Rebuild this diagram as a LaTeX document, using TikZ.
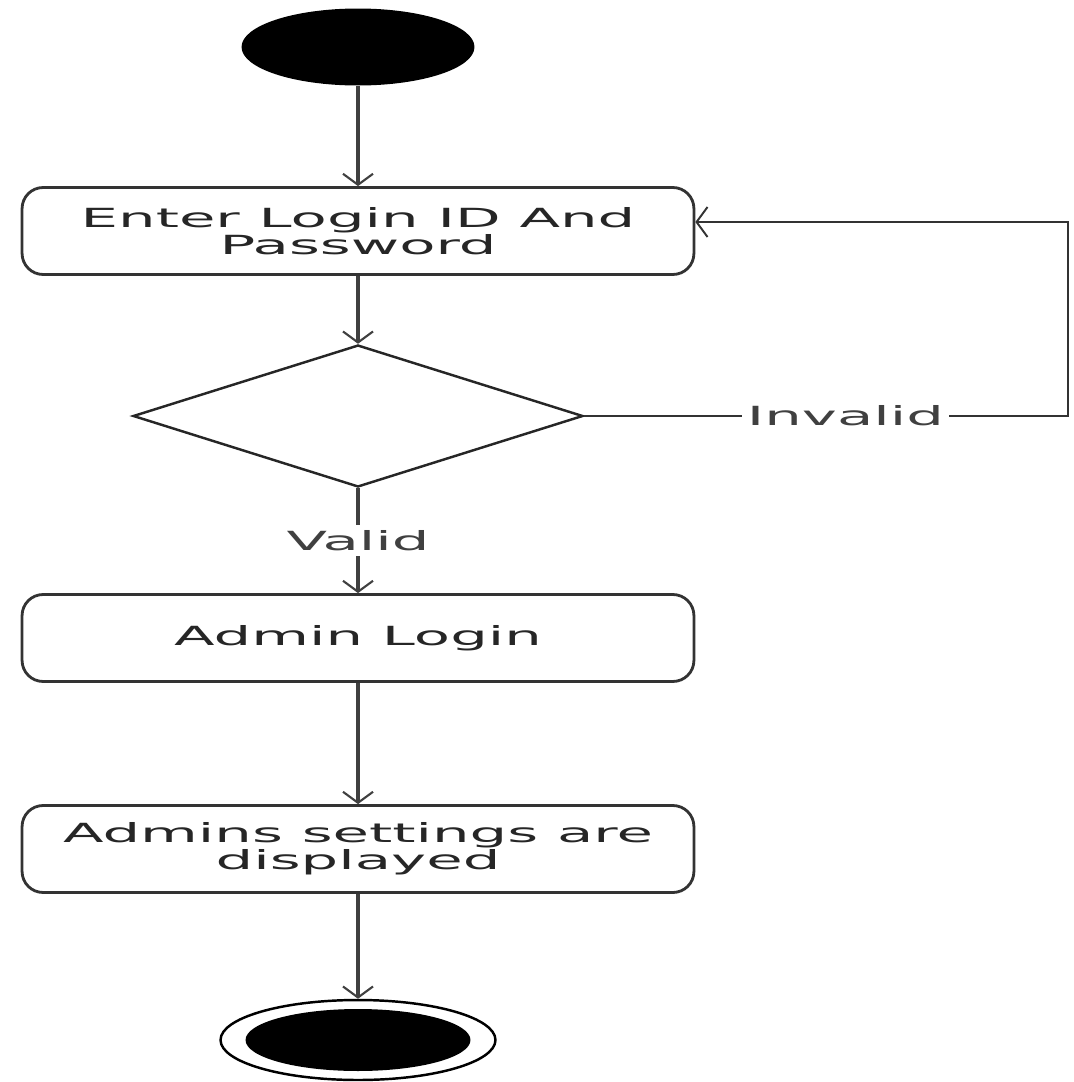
\documentclass[tikz,border=0pt]{standalone}
\usepackage{fontspec}
\setsansfont{DejaVu Sans}
\usetikzlibrary{shapes.geometric, arrows.meta, positioning}

\newcommand{\wtxt}[1]{\scalebox{2.25}[1]{#1}}

\tikzset{
  activity/.style={draw=black!80, line width=1.6pt, rounded corners=12pt,
    minimum width=13.44cm, minimum height=1.74cm, align=center,
    font=\sffamily\fontsize{15}{14.5}\selectfont, text=black!85},
  decision/.style={diamond, draw=black!85, line width=1.4pt,
    minimum width=9cm, minimum height=2.84cm, inner sep=0pt},
  startstate/.style={ellipse, fill=black, minimum width=4.66cm, minimum height=1.54cm},
  endring/.style={ellipse, draw=black, line width=1.4pt, minimum width=5.5cm, minimum height=1.6cm},
  enddot/.style={ellipse, fill=black, minimum width=4.5cm, minimum height=1.24cm},
  flow/.style={draw=black!75, line width=1.8pt,
    -{Straight Barb[length=0.22cm, width=0.6cm, line width=1.2pt]}},
  backflow/.style={draw=black!80, line width=1.1pt,
    -{Straight Barb[length=0.22cm, width=0.6cm, line width=1.1pt]}},
  guard/.style={fill=white, inner sep=3pt,
    font=\sffamily\fontsize{15}{15}\selectfont, text=black!75}
}

\begin{document}
\begin{tikzpicture}[x=0.02cm, y=-0.02cm]
    \useasboundingbox (0,0) rectangle (1073,1082);

    % States
    \node[startstate] (init) at (358,47) {};
    \node[activity] (enter) at (358,231) {\wtxt{Enter Login ID And}\\\wtxt{Password}};
    \node[decision] (check) at (358,416) {};
    \node[activity] (login) at (358,638) {\wtxt{Admin Login}};
    \node[activity] (show) at (358,849) {\wtxt{Admins settings are}\\\wtxt{displayed}};
    \node[endring] (final) at (358,1040) {};
    \node[enddot] (finaldot) at (358,1040) {};

    % Flows
    \draw[flow] (init.south) -- (enter.north);
    \draw[flow] (enter.south) -- (check.north);
    \draw[flow] (check.south) -- node[guard, pos=0.5] {\wtxt{Valid}} (login.north);
    \draw[flow] (login.south) -- (show.north);
    \draw[flow] (show.south) -- (final.north);

    % Invalid loop back
    \coordinate (back) at (1068,222);
    \draw[backflow] (check.east) -- node[guard, pos=0.54] {\wtxt{Invalid}} (check.east -| back)
        -- (back) -- (back -| enter.east);
\end{tikzpicture}
\end{document}
